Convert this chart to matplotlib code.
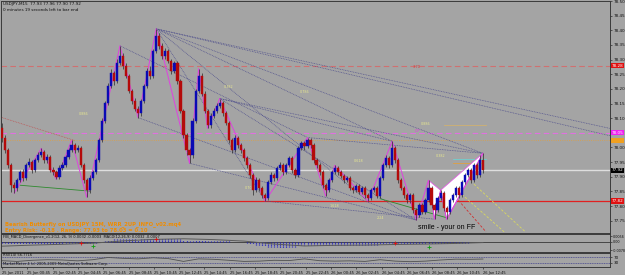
import numpy as np
import matplotlib.pyplot as plt
from matplotlib.transforms import blended_transform_factory
from matplotlib.patches import Polygon

# ----- Data: USDJPY M15 -----
open0 = 78.065
closes = [78.034, 77.990, 77.939, 77.871, 77.861, 77.888, 77.915, 77.895, 77.939, 77.949,
          77.922, 77.956, 77.973, 77.983, 77.956, 77.966, 77.922, 77.915, 77.898, 77.929,
          77.939, 77.966, 77.990, 78.007, 77.990, 77.997, 77.939, 77.888, 77.854, 77.895,
          77.915, 77.956, 78.024, 78.092, 78.153, 78.211, 78.255, 78.228, 78.289, 78.313,
          78.279, 78.245, 78.194, 78.160, 78.133, 78.119, 78.160, 78.211, 78.262, 78.245,
          78.330, 78.381, 78.347, 78.313, 78.330, 78.296, 78.262, 78.289, 78.228, 78.126,
          78.041, 77.990, 77.973, 78.092, 78.194, 78.245, 78.184, 78.126, 78.075, 78.109,
          78.126, 78.143, 78.153, 78.119, 78.085, 78.024, 77.990, 78.031, 78.007, 77.990,
          77.963, 77.939, 77.905, 77.854, 77.888, 77.861, 77.837, 77.827, 77.881, 77.905,
          77.895, 77.929, 77.939, 77.915, 77.939, 77.963, 77.922, 77.905, 77.997, 78.014,
          78.004, 78.024, 78.007, 77.956, 77.939, 77.915, 77.871, 77.854, 77.888, 77.915,
          77.929, 77.915, 77.902, 77.888, 77.895, 77.861, 77.854, 77.868, 77.847, 77.861,
          77.837, 77.827, 77.854, 77.861, 77.834, 77.895, 77.939, 77.963, 77.939, 77.997,
          77.956, 77.888, 77.861, 77.837, 77.820, 77.837, 77.786, 77.769, 77.803, 77.779,
          77.820, 77.861, 77.803, 77.786, 77.827, 77.844, 77.793, 77.779, 77.820, 77.837,
          77.861, 77.837, 77.881, 77.905, 77.922, 77.888, 77.939, 77.905, 77.956, 77.922]
highs = [78.085, 78.041, 77.997, 77.946, 77.881, 77.895, 77.922, 77.925, 77.946, 77.963,
         77.956, 77.963, 77.983, 77.997, 77.990, 77.976, 77.973, 77.932, 77.922, 77.939,
         77.949, 77.973, 77.997, 78.024, 78.014, 78.007, 78.004, 77.946, 77.895, 77.905,
         77.922, 77.963, 78.031, 78.099, 78.160, 78.221, 78.269, 78.262, 78.303, 78.347,
         78.323, 78.289, 78.252, 78.201, 78.170, 78.143, 78.167, 78.218, 78.272, 78.279,
         78.337, 78.405, 78.391, 78.357, 78.340, 78.337, 78.303, 78.296, 78.296, 78.235,
         78.133, 78.048, 77.997, 78.099, 78.201, 78.269, 78.255, 78.194, 78.133, 78.119,
         78.136, 78.153, 78.167, 78.160, 78.126, 78.092, 78.031, 78.041, 78.038, 78.014,
         77.997, 77.970, 77.946, 77.912, 77.898, 77.895, 77.868, 77.844, 77.888, 77.915,
         77.912, 77.936, 77.949, 77.946, 77.946, 77.970, 77.970, 77.929, 78.004, 78.021,
         78.021, 78.034, 78.031, 78.014, 77.963, 77.946, 77.922, 77.878, 77.895, 77.922,
         77.939, 77.936, 77.922, 77.908, 77.902, 77.902, 77.868, 77.874, 77.874, 77.868,
         77.868, 77.844, 77.861, 77.868, 77.868, 77.902, 77.946, 77.973, 77.970, 78.021,
         78.004, 77.963, 77.895, 77.868, 77.844, 77.844, 77.844, 77.793, 77.810, 77.810,
         77.827, 77.888, 77.868, 77.810, 77.834, 77.854, 77.851, 77.800, 77.827, 77.844,
         77.868, 77.868, 77.888, 77.912, 77.929, 77.929, 77.946, 77.946, 77.973, 77.980]
lows = [78.017, 77.980, 77.929, 77.847, 77.844, 77.851, 77.881, 77.885, 77.888, 77.932,
        77.912, 77.915, 77.949, 77.966, 77.946, 77.946, 77.915, 77.905, 77.891, 77.891,
        77.922, 77.932, 77.959, 77.983, 77.980, 77.983, 77.932, 77.878, 77.830, 77.844,
        77.888, 77.908, 77.949, 78.017, 78.085, 78.146, 78.204, 78.214, 78.221, 78.282,
        78.269, 78.238, 78.187, 78.150, 78.123, 78.102, 78.109, 78.153, 78.204, 78.235,
        78.238, 78.323, 78.337, 78.303, 78.303, 78.289, 78.252, 78.255, 78.218, 78.119,
        78.031, 77.973, 77.946, 77.963, 78.085, 78.187, 78.174, 78.116, 78.065, 78.068,
        78.102, 78.119, 78.136, 78.109, 78.075, 78.014, 77.980, 77.983, 77.997, 77.980,
        77.953, 77.929, 77.895, 77.837, 77.847, 77.851, 77.827, 77.817, 77.820, 77.874,
        77.885, 77.888, 77.922, 77.905, 77.908, 77.932, 77.912, 77.895, 77.898, 77.990,
        77.993, 77.997, 77.997, 77.946, 77.929, 77.905, 77.861, 77.834, 77.847, 77.881,
        77.908, 77.905, 77.895, 77.878, 77.881, 77.854, 77.844, 77.847, 77.840, 77.840,
        77.827, 77.817, 77.820, 77.847, 77.827, 77.827, 77.888, 77.932, 77.929, 77.932,
        77.946, 77.878, 77.854, 77.827, 77.810, 77.810, 77.776, 77.752, 77.762, 77.772,
        77.772, 77.813, 77.793, 77.755, 77.779, 77.820, 77.783, 77.755, 77.772, 77.813,
        77.830, 77.827, 77.830, 77.874, 77.898, 77.878, 77.881, 77.895, 77.898, 77.912]

# zigzag pivots (bar index), alternating low / high
zz_idx = [4, 13, 18, 23, 28, 39, 45, 51, 62, 65, 68, 72, 87, 101, 107, 110, 121, 129,
          137, 141, 143, 145, 147, 159]
# butterfly points X A B C D (bar index)
xabcd_idx = [141, 143, 145, 147, 159]

# horizontal levels
lvl_stop = 78.279
lvl_dp = 78.051
lvl_orange = 78.024
lvl_support = 77.817

# fan / trend lines: (bar0, price0, bar1, price1)
fan_lines = [(51, 78.405, 201, 78.065), (51, 78.405, 201, 78.040), (51, 78.405, 159, 77.980),
             (51, 78.405, 129, 78.021), (51, 78.405, 121, 77.817), (51, 78.405, 87, 77.817),
             (72, 78.167, 129, 78.021), (72, 78.167, 159, 77.980), (72, 78.167, 137, 77.752),
             (101, 78.034, 159, 77.980), (62, 77.946, 137, 77.752), (45, 78.102, 137, 77.752),
             (87, 77.817, 143, 77.755), (39, 78.347, 101, 78.034)]
red_trend = (0, 78.102, 24, 78.024)
green_lines = [(6, 77.871, 29, 77.851), (125, 77.825, 147, 77.760)]
yellow_lines = [(156, 77.875, 173, 77.712), (152, 77.840, 166, 77.712)]
red_dash = (150, 77.830, 160, 77.712)

fib_texts = [(27, 78.115, "0.886"), (75, 78.205, "0.382"), (100, 78.19, "0.786"),
             (118, 77.955, "0.618"), (62, 77.985, "1.27"), (95, 77.93, "0.5"),
             (110, 77.80, "1.618"), (125, 77.76, "2.24"), (82, 77.86, "0.707"),
             (140, 78.08, "0.886"), (145, 77.97, "0.382")]

# MACD histogram (x 1e-4) per bar
macd_hist = [-10, -12, -15, -18, -20, -22, -22, -22, -20, -20,
             -20, -18, -18, -16, -16, -16, -18, -18, -20, -18,
             -16, -14, -12, -10, -10, -10, -12, -15, -18, -16,
             -12, -8, -4, 2, 8, 14, 20, 24, 28, 32,
             32, 30, 28, 26, 24, 22, 24, 26, 28, 28,
             32, 36, 36, 36, 35, 34, 33, 32, 30, 26,
             20, 15, 12, 12, 14, 16, 15, 14, 12, 11,
             10, 10, 10, 9, 8, 6, 4, 3, 2, 1,
             -5, -10, -15, -20, -25, -30, -35, -40, -45, -48,
             -50, -52, -55, -56, -55, -52, -48, -44, -38, -32,
             -28, -26, -26, -28, -30, -32, -32, -32, -30, -30,
             -28, -27, -27, -28, -28, -29, -30, -30, -30, -30,
             -30, -30, -30, -28, -26, -22, -18, -14, -12, -10,
             -10, -12, -14, -16, -18, -20, -22, -24, -24, -24,
             -22, -20, -20, -20, -19, -18, -18, -18, -16, -14,
             -12, -10, -8, -7, -6, -5, -4, -3, -2, -1]
sig_idx = [0, 10, 20, 30, 40, 50, 60, 70, 80, 90, 100, 110, 120, 130, 140, 150, 159]
sig_val = [-40, -30, -22, -12, 10, 24, 30, 22, 8, -20, -38, -32, -30, -24, -20, -14, -6]
div_red = [(26, -11), (51, 26), (130, -11)]
div_green = [(30, -41), (141, -48)]

# RSI every 5 bars
rsi_idx = list(range(0, 160, 5)) + [159]
rsi_val = [45, 40, 48, 52, 50, 44, 52, 68, 62, 58, 66, 60, 40, 58, 55, 48,
           40, 42, 48, 46, 58, 45, 42, 44, 40, 52, 42, 38, 42, 50, 56, 55, 57]

time_labels = ["25 Jan 2011", "25 Jan 00:45", "25 Jan 02:45", "25 Jan 04:45", "25 Jan 06:45",
               "25 Jan 08:45", "25 Jan 10:45", "25 Jan 12:45", "25 Jan 14:45", "25 Jan 16:45",
               "25 Jan 18:45", "25 Jan 20:45", "25 Jan 22:45", "26 Jan 00:45", "26 Jan 02:45",
               "26 Jan 04:45", "26 Jan 06:45", "26 Jan 08:45", "26 Jan 10:45", "26 Jan 12:45"]
price_ticks = [78.50, 78.45, 78.40, 78.35, 78.30, 78.25, 78.20, 78.15, 78.10,
               78.00, 77.95, 77.90, 77.85, 77.80, 77.75]

# ----- Style -----
bg = '#a4a4a4'
frame = '#3a3a3a'
up_col = '#0a0ab4'
dn_col = '#b40a0a'
W, H = 625, 275
XMIN, XMAX = -0.33, 201.0

fig = plt.figure(figsize=(W / 100, H / 100), dpi=100, facecolor=bg)

def px_axes(top, bottom):
    return fig.add_axes([1 / W, 1 - bottom / H, 609 / W, (bottom - top) / H], facecolor=bg)

ax = px_axes(1, 233)
ax_m = px_axes(234, 252)
ax_r = px_axes(253, 267)

for a in (ax, ax_m, ax_r):
    for s in a.spines.values():
        s.set_color(frame)
        s.set_linewidth(0.7)
    a.set_xlim(XMIN, XMAX)
    a.yaxis.tick_right()
    a.tick_params(axis='y', length=1.5, width=0.4, labelsize=3, pad=1, colors='#101010')
    a.tick_params(axis='x', length=0, labelbottom=False)

# ----- Main price panel -----
c = np.array(closes)
h = np.array(highs)
lo = np.array(lows)
o = np.r_[open0, c[:-1]]
x = np.arange(len(c))
cols = np.where(c >= o, up_col, dn_col)

ax.set_ylim(77.708, 78.4966)
ax.set_yticks(price_ticks)
ax.set_yticklabels([f"{p:.2f}" for p in price_ticks])

# horizontal levels
ax.axhline(lvl_stop, color='#d07070', lw=0.8, dashes=(5, 3))
ax.axhline(lvl_dp, color='#e070e0', lw=0.8, dashes=(5, 3))
ax.axhline(lvl_orange, color='#e0a040', lw=0.6, ls=':')
ax.axhline(c[-1], color='#dedede', lw=1.0)
ax.axhline(lvl_support, color='#e02020', lw=0.9)

# fan lines
for x0, y0, x1, y1 in fan_lines:
    ax.plot([x0, x1], [y0, y1], color='#4c4c8c', lw=0.5, ls=(0, (1.2, 1.2)))
ax.plot(red_trend[::2], red_trend[1::2], color='#c05050', lw=0.5, ls=(0, (1.2, 1.2)))
for x0, y0, x1, y1 in green_lines:
    ax.plot([x0, x1], [y0, y1], color='#2f8a2f', lw=0.6)
for x0, y0, x1, y1 in yellow_lines:
    ax.plot([x0, x1], [y0, y1], color='#d8d860', lw=0.6, dashes=(3, 2))
ax.plot(red_dash[::2], red_dash[1::2], color='#d03030', lw=0.6, dashes=(3, 2))
ax.plot([146, 160], [lvl_dp + 0.025, lvl_dp + 0.025], color='#d0b070', lw=0.6)
ax.plot([149, 160], [77.96, 77.96], color='#70d0d0', lw=0.6)
ax.plot([149, 159], [77.946, 77.946], color='#e0a040', lw=0.6)

# butterfly pattern (white triangles)
X, A, B, C_, D = xabcd_idx
pts = [(X, h[X]), (A, lo[A]), (B, h[B]), (C_, lo[C_]), (D, h[D])]
ax.add_patch(Polygon([pts[0], pts[1], pts[2]], closed=True, fc='white', ec='#e060e0', lw=0.6, zorder=2))
ax.add_patch(Polygon([pts[2], pts[3], pts[4]], closed=True, fc='white', ec='#e060e0', lw=0.6, zorder=2))

# zigzag
zz_p = [lo[i] if k % 2 == 0 else h[i] for k, i in enumerate(zz_idx)]
ax.plot(zz_idx, zz_p, color='#e040e0', lw=0.7, zorder=3)

# candles
ax.vlines(x, lo, h, color='#2a2a2a', lw=0.5, zorder=4)
ax.bar(x, np.abs(c - o), bottom=np.minimum(o, c), width=0.72, color=cols,
       edgecolor=cols, lw=0.3, zorder=5)

# small fib labels
for i, p, t in fib_texts:
    ax.text(i, p, t, fontsize=2.4, color='#e8e890', ha='center', va='center')
ax.text(137.5, lvl_dp + 0.004, "DP", fontsize=3, color='#e040e0', ha='center', va='center')
ax.text(137, lvl_stop - 0.006, "3.70", fontsize=2.6, color='#e03030', ha='center', va='center')

# price boxes on the axis
tr = blended_transform_factory(ax.transAxes, ax.transData)
for val, fc, tc in [(lvl_stop, '#e01010', 'white'), (lvl_dp, '#f020f0', 'white'),
                    (lvl_orange, '#f0a020', '#f0a020'), (c[-1], 'black', 'white'),
                    (lvl_support, '#e01010', 'white')]:
    ax.text(1.003, val, f"{val:.2f}", transform=tr, fontsize=3, color=tc, ha='left',
            va='center', clip_on=False,
            bbox=dict(boxstyle='square,pad=0.15', fc=fc, ec='none'))

# header texts
ax.text(0.004, 0.995, "USDJPY,M15  77.93 77.96 77.90 77.92", transform=ax.transAxes,
        fontsize=3, va='top', ha='left', color='#101010')
ax.text(0.004, 0.97, "0 minutes 19 seconds left to bar end", transform=ax.transAxes,
        fontsize=3, va='top', ha='left', color='#101010')
ax.text(1, 77.739, "Bearish Butterfly on USDJPY 15M, WRR_2UP_INFO_v02.mq4",
        fontsize=3.8, fontweight='bold', color='#f08c00', ha='left', va='center')
ax.text(1, 77.718, "Entry Risk: -0.18 . Range: 77.93 to 78.03 = 0.10",
        fontsize=3.8, fontweight='bold', color='#f08c00', ha='left', va='center')
ax.text(137.5, 77.727, "smile - your on FF", fontsize=5, color='black',
        family='Liberation Sans', ha='left', va='center')

# ----- MACD panel -----
hist = np.array(macd_hist) * 1e-4
ax_m.set_ylim(-0.0095, 0.0075)
ax_m.axhline(0, color='#202020', lw=0.5)
ax_m.vlines(x, 0, hist, color='#1c1cc0', lw=0.9, ls=(0, (1, 0.6)))
ax_m.plot(sig_idx, np.array(sig_val) * 1e-4, color='#5a5a5a', lw=0.7)
for i, v in div_red:
    ax_m.plot(i, v * 1e-4, marker='+', color='#e01010', ms=3, mew=0.6)
for i, v in div_green:
    ax_m.plot(i, v * 1e-4, marker='+', color='#10a010', ms=3, mew=0.6)
ax_m.set_yticks([0.0056, 0, -0.0078])
ax_m.set_yticklabels(["0.0056", "0.00", "-0.0078"])
ax_m.tick_params(axis='y', labelsize=2.4, pad=0.8)
ax_m.text(0.004, 0.93, "FIB_MACD_Divergence_v1.2(12, 26, 9) 0.0032 -0.0003  MACD(12,26,9) 0.0032 -0.0007",
          transform=ax_m.transAxes, fontsize=2.6, va='top', color='#101010')

# ----- RSI panel -----
ax_r.set_ylim(0, 100)
ax_r.axhline(70, color='#3c3c8c', lw=0.5, ls=(0, (1.5, 1)))
ax_r.axhline(30, color='#3c3c8c', lw=0.5, ls=(0, (1.5, 1)))
ax_r.plot(rsi_idx, rsi_val, color='#505050', lw=0.6)
ax_r.set_yticks([70, 30])
ax_r.set_yticklabels(["70", "30"])
ax_r.text(0.004, 0.98, "RSI(14) 56.7716", transform=ax_r.transAxes, fontsize=2.6,
          va='top', color='#101010')
ax_r.text(0.004, 0.35, "MarketMeter 4 (c) 2005-2009 MetaQuotes Software Corp.",
          transform=ax_r.transAxes, fontsize=2.6, va='top', color='#101010')

# time axis
tick_pos = np.arange(len(time_labels)) * 8.365
ax_r.set_xticks(tick_pos)
ax_r.set_xticklabels(time_labels)
ax_r.tick_params(axis='x', length=1.5, width=0.4, labelsize=2.6, pad=1.2,
                 labelbottom=True, colors='#101010')
for lab in ax_r.get_xticklabels():
    lab.set_ha('left')

fig.savefig('out.png', dpi=100, facecolor=bg)
